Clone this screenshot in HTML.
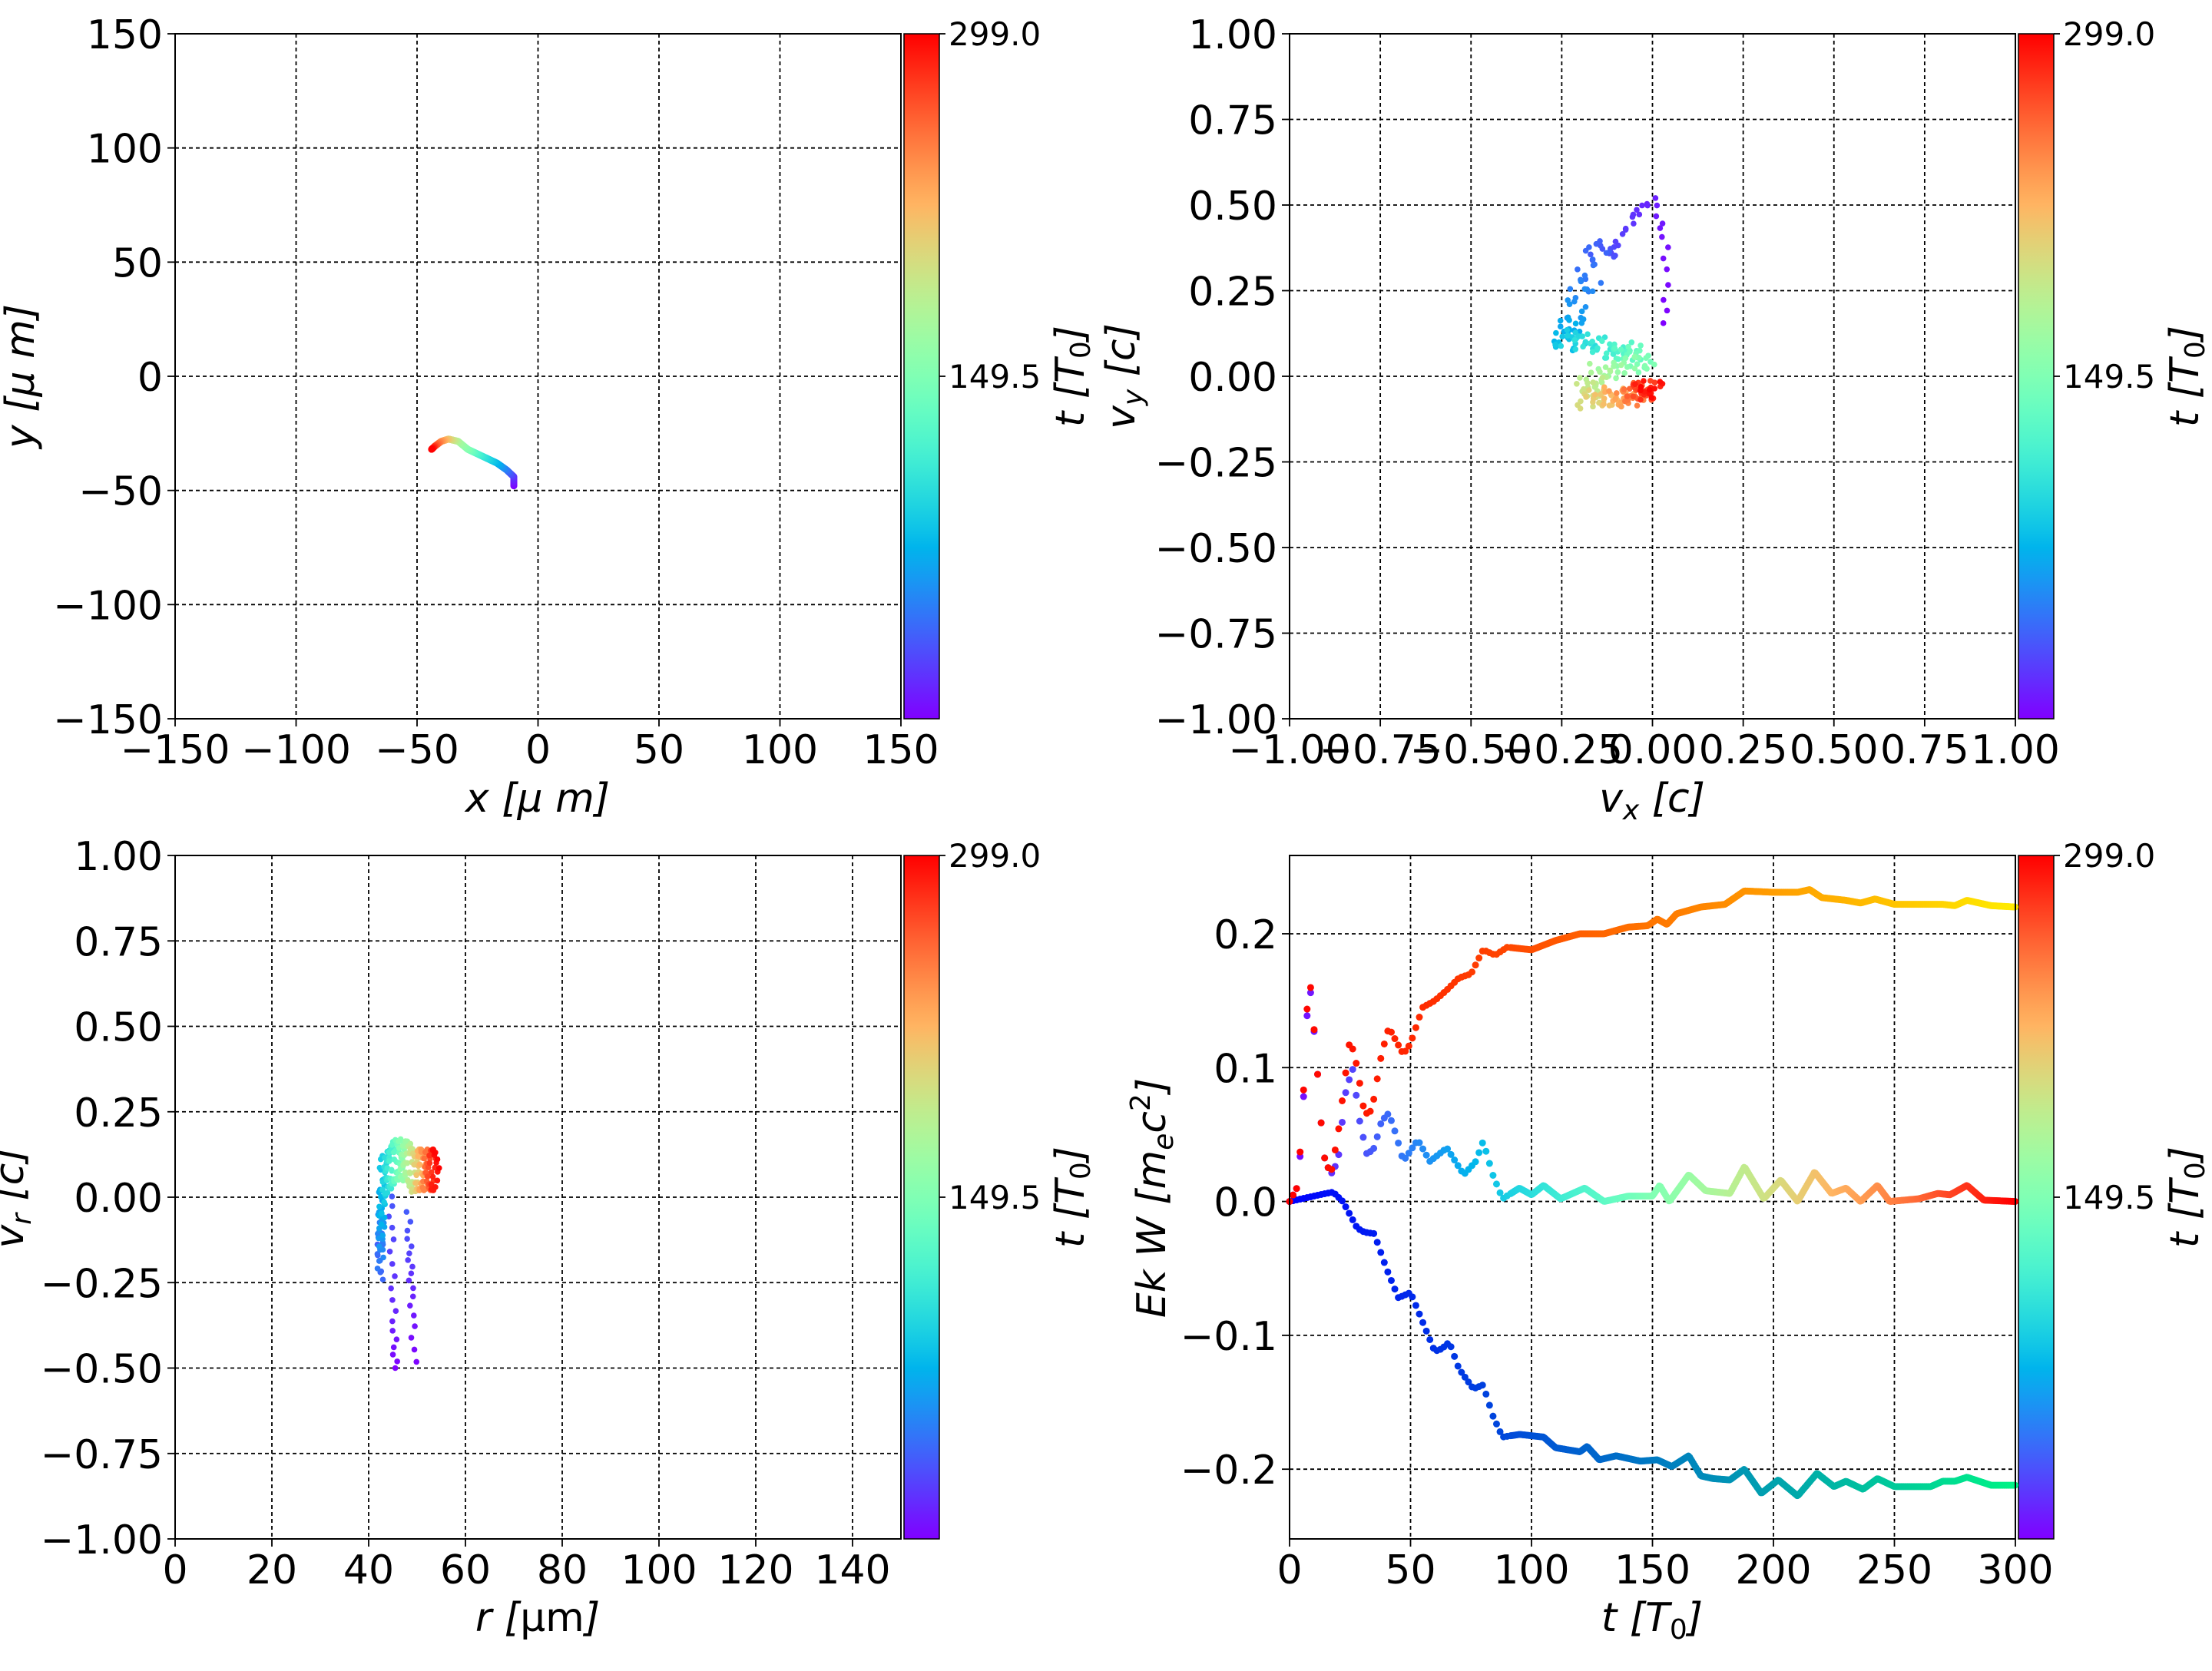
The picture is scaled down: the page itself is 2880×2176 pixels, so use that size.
<!DOCTYPE html>
<html><head><meta charset="utf-8"><style>
html,body{margin:0;padding:0;background:#fff;}
svg{display:block;font-family:"DejaVu Sans","Liberation Sans",sans-serif;}
</style></head><body>
<svg id="s" width="2880" height="2176" viewBox="0 0 2880 2176" xmlns="http://www.w3.org/2000/svg">
<defs>
<linearGradient id="cb" x1="0" y1="1" x2="0" y2="0"></linearGradient>
</defs>
<rect width="2880" height="2176" fill="#fff"/>
<g id="g"></g>
</svg>
<script>
(function(){
var NS="http://www.w3.org/2000/svg";
var G=document.getElementById("g");
function el(t,a,txt){var e=document.createElementNS(NS,t);for(var k in a)e.setAttribute(k,a[k]);if(txt!==undefined)e.textContent=txt;G.appendChild(e);return e;}
function cl(v){return Math.max(0,Math.min(1,v));}
function rgb(r,g,b){return "rgb("+Math.round(cl(r)*255)+","+Math.round(cl(g)*255)+","+Math.round(cl(b)*255)+")";}
function rb(x){return rgb(Math.abs(2*x-0.5),Math.sin(Math.PI*x),Math.cos(Math.PI*x/2));}
var grad=document.getElementById("cb");
for(var i=0;i<=40;i++){var s=document.createElementNS(NS,"stop");s.setAttribute("offset",(i/40));s.setAttribute("stop-color",rb(i/40));grad.appendChild(s);}
function fmt(v,d){var s=Math.abs(v).toFixed(d);return (v<-1e-9?"\u2212":"")+s;}
function axes(o){
  var X=function(v){return o.x0+(v-o.xmin)/(o.xmax-o.xmin)*(o.x1-o.x0);};
  var Y=function(v){return o.y1-(v-o.ymin)/(o.ymax-o.ymin)*(o.y1-o.y0);};
  o.X=X;o.Y=Y;
  o.xt.forEach(function(v){var x=X(v);
    el("line",{x1:x,y1:o.y0,x2:x,y2:o.y1,stroke:"#000","stroke-width":1.8,"stroke-dasharray":"5,4"});
    el("line",{x1:x,y1:o.y1,x2:x,y2:o.y1+10,stroke:"#000","stroke-width":1.8});
    el("text",{x:x,y:o.y1+58,"text-anchor":"middle","font-size":52},fmt(v,o.xd));});
  o.yt.forEach(function(v){var y=Y(v);
    el("line",{x1:o.x0,y1:y,x2:o.x1,y2:y,stroke:"#000","stroke-width":1.8,"stroke-dasharray":"5,4"});
    el("line",{x1:o.x0-10,y1:y,x2:o.x0,y2:y,stroke:"#000","stroke-width":1.8});
    el("text",{x:o.x0-16,y:y+19,"text-anchor":"end","font-size":52},fmt(v,o.yd));});
  var cx=o.x1+4,cw=46;
  el("rect",{x:cx,y:o.y0,width:cw,height:o.y1-o.y0,fill:"url(#cb)",stroke:"#000","stroke-width":1.5});
  [[o.y0,"299.0"],[(o.y0+o.y1)/2,"149.5"]].forEach(function(p){
    el("line",{x1:cx+cw,y1:p[0],x2:cx+cw+8,y2:p[0],stroke:"#000","stroke-width":1.8});
    el("text",{x:cx+cw+12,y:p[0]+15,"font-size":42},p[1]);});
  var cbl=el("text",{x:0,y:0,"font-size":52,"text-anchor":"middle","font-style":"italic",transform:"translate("+(o.x1+238)+","+((o.y0+o.y1)/2)+") rotate(-90)"});
  cbl.innerHTML='t [T<tspan font-style="normal" font-size="36" dy="8">0</tspan><tspan dy="-8">]</tspan>';
  return o;
}
function spine(o){el("rect",{x:o.x0,y:o.y0,width:o.x1-o.x0,height:o.y1-o.y0,fill:"none",stroke:"#000","stroke-width":2});}
function dot(o,x,y,c,r){el("circle",{cx:o.X(x),cy:o.Y(y),r:r||4,fill:c});}
function lin(p,t){if(t<=p[0][0])return p[0][1];for(var i=1;i<p.length;i++){if(t<=p[i][0]){var a=p[i-1],b=p[i];return a[1]+(b[1]-a[1])*(t-a[0])/(b[0]-a[0]);}}return p[p.length-1][1];}
function lin2(p,s){if(s<=p[0][0])return [p[0][1],p[0][2]];for(var i=1;i<p.length;i++){if(s<=p[i][0]){var a=p[i-1],b=p[i],f=(s-a[0])/(b[0]-a[0]);return [a[1]+(b[1]-a[1])*f,a[2]+(b[2]-a[2])*f];}}var l=p[p.length-1];return [l[1],l[2]];}

var t;
var A=axes({x0:228,x1:1173,y0:44,y1:936,xmin:-150,xmax:150,ymin:-150,ymax:150,xt:[-150,-100,-50,0,50,100,150],yt:[-150,-100,-50,0,50,100,150],xd:0,yd:0});
var p1=[[0,-10,-48],[0.06,-10,-44],[0.15,-13,-41],[0.25,-17,-38],[0.4,-25,-34],[0.5,-29,-32],[0.58,-33,-28.5],[0.7,-37,-27.5],[0.8,-40,-28.5],[0.9,-42.5,-30.5],[1,-44,-32]];
for(var i=0;i<=300;i++){var s=i/300,q=lin2(p1,s);dot(A,q[0],q[1],rb(s),4.5);}
spine(A);
t=el("text",{x:700,y:1057,"text-anchor":"middle","font-size":52,"font-style":"italic"});t.textContent='x  [\u03bc m]';
t=el("text",{x:0,y:0,"text-anchor":"middle","font-size":52,"font-style":"italic",transform:"translate(44,490) rotate(-90)"});t.textContent='y  [\u03bc m]';

var B=axes({x0:1679,x1:2624,y0:44,y1:936,xmin:-1,xmax:1,ymin:-1,ymax:1,xt:[-1,-0.75,-0.5,-0.25,0,0.25,0.5,0.75,1],yt:[-1,-0.75,-0.5,-0.25,0,0.25,0.5,0.75,1],xd:2,yd:2});
var p2=[[0,0.03,0.15],[0.02,0.04,0.38],[0.04,0.0,0.52],[0.06,-0.05,0.47],[0.09,-0.11,0.36],[0.13,-0.16,0.37],[0.17,-0.19,0.26],[0.22,-0.22,0.16],[0.27,-0.25,0.1],[0.32,-0.21,0.11],[0.38,-0.13,0.08],[0.45,-0.06,0.07],[0.5,-0.02,0.04],[0.56,-0.12,0.02],[0.62,-0.17,-0.02],[0.67,-0.18,-0.07],[0.73,-0.12,-0.06],[0.82,-0.06,-0.06],[0.9,-0.03,-0.04],[1,0.0,-0.04]];
for(var i=0;i<=300;i++){var s=i/300,q=lin2(p2,s);var jx=0.025*Math.sin(i*2.3)+0.015*Math.sin(i*0.71),jy=0.02*Math.sin(i*1.7+1)+0.01*Math.sin(i*0.37);if(s<0.1){jx*=0.3;jy*=0.3;}dot(B,q[0]+jx,q[1]+jy,rb(s),3.8);}
spine(B);
t=el("text",{x:2151,y:1057,"text-anchor":"middle","font-size":52,"font-style":"italic"});t.innerHTML='v<tspan font-size="36" dy="10">x</tspan><tspan dy="-10"> [c]</tspan>';
t=el("text",{x:0,y:0,"text-anchor":"middle","font-size":52,"font-style":"italic",transform:"translate(1477,490) rotate(-90)"});t.innerHTML='v<tspan font-size="36" dy="10">y</tspan><tspan dy="-10"> [c]</tspan>';

var C=axes({x0:228,x1:1173,y0:1114,y1:2004,xmin:0,xmax:150,ymin:-1,ymax:1,xt:[0,20,40,60,80,100,120,140],yt:[-1,-0.75,-0.5,-0.25,0,0.25,0.5,0.75,1],xd:0,yd:2});
for(var i=0;i<=300;i++){var s=i/300,r,v,f;
 if(s<0.12){var k=i%2;r=(k?49.5:45.5)-(k?1.5:1)*s/0.12+0.5*Math.sin(i);v=-0.5+s/0.12*0.5+0.03*Math.sin(i*3);}
 else if(s<0.3){r=42.3+0.6*Math.sin(i*1.3)+((s-0.12)/0.18)*0.6;v=-0.2+(s-0.12)/0.18*0.25+0.06*Math.sin(i*0.9);}
 else if(s<0.7){f=(s-0.3)/0.4;r=43+f*7+0.5*Math.sin(i*1.1);v=0.06+0.06*Math.sin(i*0.5)+0.05*Math.sin(f*3.14);}
 else {f=(s-0.7)/0.3;r=50+f*4+0.6*Math.sin(i*0.8);v=0.08+0.06*Math.sin(i*0.45);}
 dot(C,r,v,rb(s),3.8);}
spine(C);
t=el("text",{x:700,y:2124,"text-anchor":"middle","font-size":52,"font-style":"italic"});t.innerHTML='r [<tspan font-style="normal">\u03bcm</tspan>]';
t=el("text",{x:0,y:0,"text-anchor":"middle","font-size":52,"font-style":"italic",transform:"translate(30,1560) rotate(-90)"});t.innerHTML='v<tspan font-size="36" dy="10">r</tspan><tspan dy="-10"> [c]</tspan>';

var D=axes({x0:1679,x1:2624,y0:1114,y1:2004,xmin:0,xmax:300,ymin:-0.2521,ymax:0.2585,xt:[0,50,100,150,200,250,300],yt:[-0.2,-0.1,0,0.1,0.2],xd:0,yd:1});
var topS=[[0,0],[3,0.01],[5,0.05],[8,0.175],[11,0.11],[14,0.035],[17,0.02],[20,0.05],[25,0.122],[28,0.1],[31,0.065],[34,0.068],[38,0.11],[41,0.13],[44,0.12],[47,0.11],[50,0.118],[55,0.145],[60,0.15],[65,0.158],[70,0.167],[75,0.17],[80,0.188],[85,0.184],[90,0.19],[100,0.188],[110,0.195],[120,0.2],[130,0.2],[140,0.205],[148,0.206],[152,0.211],[156,0.207],[160,0.215],[170,0.22],[180,0.222],[188,0.232],[200,0.231],[210,0.231],[215,0.233],[220,0.227],[230,0.225],[236,0.223],[242,0.226],[250,0.222],[260,0.222],[270,0.222],[275,0.221],[280,0.225],[290,0.221],[300,0.22]];
var midS=[[0,0],[3,0.01],[5,0.045],[8,0.17],[11,0.11],[14,0.035],[17,0.02],[20,0.03],[23,0.08],[26,0.1],[29,0.06],[32,0.035],[35,0.04],[38,0.06],[41,0.066],[44,0.05],[47,0.03],[53,0.046],[58,0.03],[65,0.04],[72,0.02],[77,0.03],[80,0.045],[84,0.02],[88,0.002],[95,0.01],[100,0.005],[105,0.012],[112,0.002],[122,0.01],[130,0.0],[140,0.004],[150,0.004],[153,0.012],[157,0.0],[165,0.02],[172,0.008],[182,0.006],[188,0.026],[196,0.002],[203,0.016],[210,0.0],[217,0.022],[224,0.006],[230,0.01],[236,0.0],[243,0.012],[248,0.0],[260,0.002],[268,0.006],[273,0.005],[280,0.012],[287,0.001],[300,0.0]];
var botS=[[0,0],[15,0.006],[18,0.007],[22,0.0],[28,-0.02],[31,-0.023],[35,-0.024],[40,-0.05],[45,-0.072],[50,-0.068],[55,-0.09],[60,-0.112],[63,-0.11],[66,-0.105],[70,-0.125],[76,-0.14],[80,-0.137],[84,-0.16],[88,-0.176],[95,-0.174],[105,-0.176],[110,-0.184],[120,-0.187],[123,-0.183],[128,-0.193],[135,-0.19],[145,-0.194],[152,-0.193],[158,-0.198],[165,-0.19],[170,-0.205],[175,-0.207],[182,-0.208],[188,-0.2],[195,-0.218],[202,-0.208],[210,-0.22],[218,-0.203],[225,-0.213],[230,-0.209],[237,-0.215],[243,-0.207],[250,-0.213],[265,-0.213],[270,-0.209],[275,-0.209],[280,-0.206],[290,-0.212],[300,-0.212]];
function series(data,cf){var tt=0;while(tt<=300){var st=tt<90?1.45:0.5;dot(D,tt,lin(data,tt),cf(tt),4.5);tt+=st;}}
series(botS,function(t){var g=t/300*0.95;return rgb(0,g,1-g/2);});
series(midS,function(t){return rb(t/300);});
series(topS,function(t){return rgb(1,t/300*0.92,0);});
spine(D);
t=el("text",{x:2151,y:2124,"text-anchor":"middle","font-size":52,"font-style":"italic"});t.innerHTML='t [T<tspan font-style="normal" font-size="36" dy="10">0</tspan><tspan dy="-10">]</tspan>';
t=el("text",{x:0,y:0,"text-anchor":"middle","font-size":52,"font-style":"italic",transform:"translate(1517,1560) rotate(-90)"});t.innerHTML='Ek W [m<tspan font-size="36" dy="10">e</tspan><tspan dy="-10">c</tspan><tspan font-size="36" dy="-20" font-style="normal">2</tspan><tspan dy="20">]</tspan>';
})();
</script>
</body></html>
